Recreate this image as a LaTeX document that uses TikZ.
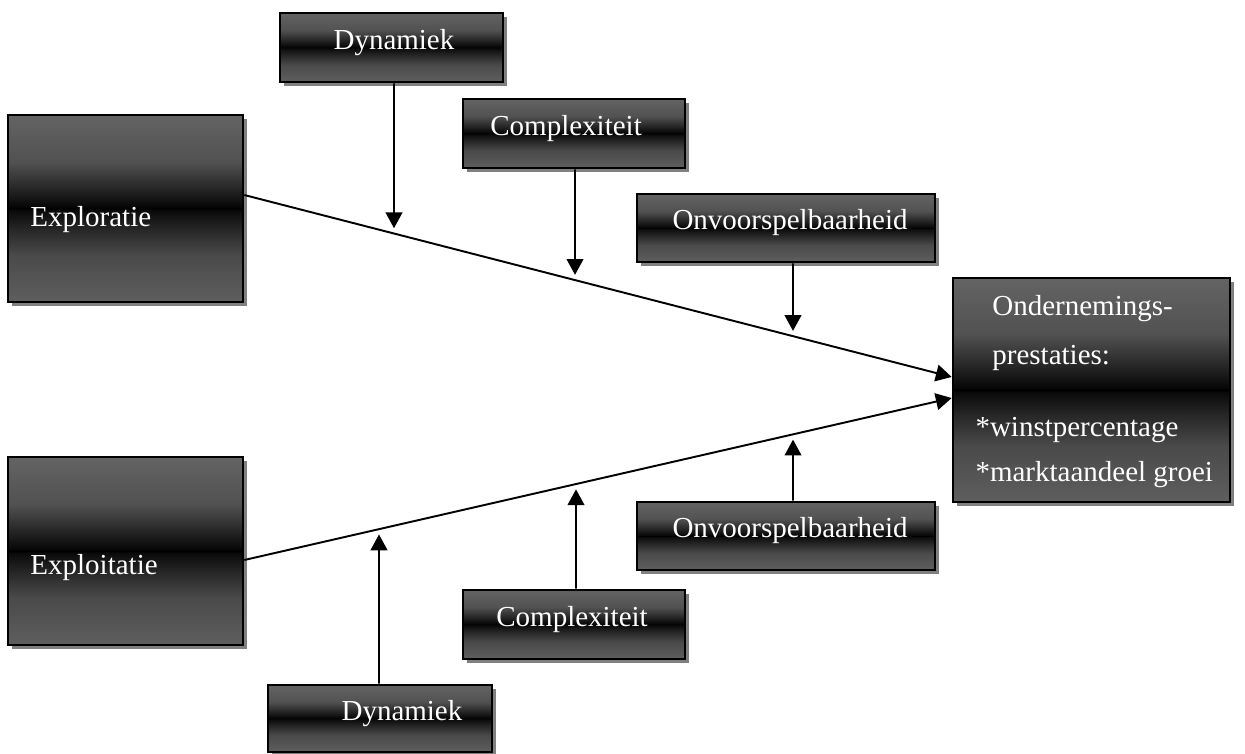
\documentclass[tikz,border=0pt]{standalone}
\usepackage{fontspec}
\setmainfont{Liberation Serif}
\usetikzlibrary{arrows.meta,shadows,calc}
\pgfdeclareverticalshading{boxshade}{100bp}{%
 color(0bp)=(black!63); color(25bp)=(black!63); color(37.5bp)=(black!71);
 color(45bp)=(black!86); color(49.5bp)=(black!96); color(50bp)=(black);
 color(50.6bp)=(black!97); color(55bp)=(black!86); color(62.5bp)=(black!68);
 color(75bp)=(black!61); color(100bp)=(black!61)}
\newcommand\bt[2]{\raisebox{-1.1pt}[0pt][0pt]{\makebox[0pt][c]{\hspace*{#1}\hspace*{#1}#2}}}
\tikzset{
  sbox/.style={rectangle, draw=black, line width=1.5pt, shading=boxshade,
    text=white, inner sep=0pt, font=\fontsize{16.5}{19}\selectfont,
    drop shadow={shadow xshift=2.4pt, shadow yshift=-2.4pt, fill=black!50, opacity=1}},
  arr/.style={line width=1.1pt, -{Triangle[width=9.5pt,length=9pt]}},
}
\begin{document}
\begin{tikzpicture}[x=0.02cm, y=-0.02cm]
\useasboundingbox (0,0) rectangle (1245,754);
% boxes
\node[sbox, minimum width=4.70cm, minimum height=3.74cm] (expl) at (125.5,208.5)
  {\raisebox{-10.5pt}[0pt][0pt]{\makebox[0pt][l]{\hspace*{-54.1pt}Exploratie}}};
\node[sbox, minimum width=4.70cm, minimum height=3.76cm] (expt) at (125.5,551)
  {\raisebox{-13.6pt}[0pt][0pt]{\makebox[0pt][l]{\hspace*{-54.1pt}Exploitatie}}};
\node[sbox, minimum width=5.54cm, minimum height=4.48cm] (ond) at (1091.5,390)
  {\raisebox{42.5pt}[0pt][0pt]{\makebox[0pt][l]{\hspace*{-66pt}\parbox[t]{8cm}{\fontsize{16.5}{25.5}\selectfont
   \hspace*{9.6pt}Ondernemings-\\[2.3pt]
   \hspace*{9.6pt}prestaties:\\[15.8pt]
   {*}winstpercentage\\
   {*}marktaandeel groei}}}};
\node[sbox, minimum width=4.46cm, minimum height=1.38cm] (dyn1) at (391.5,47.5) {\bt{1.4pt}{Dynamiek}};
\node[sbox, minimum width=4.44cm, minimum height=1.38cm] (com1) at (574,133.5) {\bt{-4.5pt}{Complexiteit}};
\node[sbox, minimum width=5.96cm, minimum height=1.36cm] (onv1) at (786,228) {\bt{2.3pt}{Onvoorspelbaarheid}};
\node[sbox, minimum width=5.96cm, minimum height=1.36cm] (onv2) at (786,536) {\bt{2.3pt}{Onvoorspelbaarheid}};
\node[sbox, minimum width=4.44cm, minimum height=1.38cm] (com2) at (574,624.5) {\bt{-1.1pt}{Complexiteit}};
\node[sbox, minimum width=4.48cm, minimum height=1.34cm] (dyn2) at (380,718.5) {\bt{12.5pt}{Dynamiek}};
% main connectors
\coordinate (t1) at ($(expl.east)+(0,-13.5)$);
\coordinate (t2) at ($(ond.west)+(0,-13)$);
\coordinate (b1) at ($(expt.east)+(0,9)$);
\coordinate (b2) at ($(ond.west)+(0,8)$);
\draw[arr] (t1) -- (t2);
\draw[arr] (b1) -- (b2);
% moderator arrows (top)
\coordinate (d1s) at (dyn1.south -| 394,0);
\coordinate (d1e) at (394,700);
\coordinate (c1s) at (com1.south -| 575,0);
\coordinate (c1e) at (575,700);
\coordinate (o1s) at (onv1.south -| 793,0);
\coordinate (o1e) at (793,700);
\draw[arr, shorten >=3pt] (d1s) -- (intersection of d1s--d1e and t1--t2);
\draw[arr, shorten >=3pt] (c1s) -- (intersection of c1s--c1e and t1--t2);
\draw[arr, shorten >=3pt] (o1s) -- (intersection of o1s--o1e and t1--t2);
% moderator arrows (bottom)
\coordinate (d2s) at (dyn2.north -| 379,0);
\coordinate (d2e) at (379,0);
\coordinate (c2s) at (com2.north -| 576,0);
\coordinate (c2e) at (576,0);
\coordinate (o2s) at (onv2.north -| 793,0);
\coordinate (o2e) at (793,0);
\draw[arr, shorten >=3pt] (d2s) -- (intersection of d2s--d2e and b1--b2);
\draw[arr, shorten >=3pt] (c2s) -- (intersection of c2s--c2e and b1--b2);
\draw[arr, shorten >=3pt] (o2s) -- (intersection of o2s--o2e and b1--b2);
\end{tikzpicture}
\end{document}
